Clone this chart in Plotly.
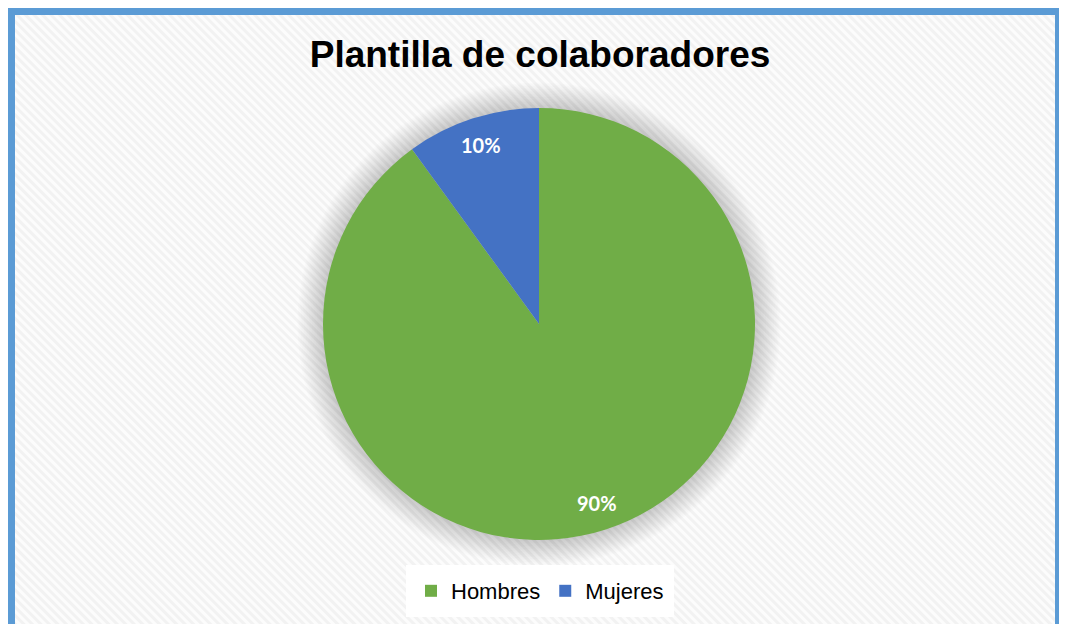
import base64
import math

import plotly.graph_objects as go

# the page puts the figure 8px in from the window corner, so size it to fit
OFF = 8
W, H = 1067 - OFF, 624 - OFF

# Data
labels = ["Hombres", "Mujeres"]
values = [90, 10]
colors = ["#70AD47", "#4472C4"]
title_text = "Plantilla de colaboradores"

# pie geometry in window pixels (center + radius)
cx, cy, r = 539, 324, 216


def px(x):
    return (x - OFF) / W


def py(y):
    return 1 - (y - OFF) / H


# hatched background like the Excel chart area fill
svg = f"""<svg xmlns='http://www.w3.org/2000/svg' width='{W}' height='{H}' viewBox='0 0 {W} {H}'>
<defs><pattern id='p' width='6' height='6' patternUnits='userSpaceOnUse' patternTransform='rotate(-45)'>
<rect width='6' height='6' fill='#fcfcfc'/><rect width='3' height='6' fill='#f2f2f2'/></pattern></defs>
<rect width='{W}' height='{H}' fill='url(#p)'/></svg>"""
bg_src = "data:image/svg+xml;base64," + base64.b64encode(svg.encode()).decode()

fig = go.Figure()

# soft shadow round the pie: stacked faint grey discs
for k in range(16, 0, -1):
    rr = r + k * 1.6
    fig.add_trace(
        go.Pie(
            values=[1],
            labels=["shadow"],
            marker=dict(colors=["rgba(0,0,0,0.012)"], line=dict(width=0)),
            textinfo="none",
            hoverinfo="skip",
            showlegend=False,
            sort=False,
            domain=dict(x=[px(cx - rr), px(cx + rr)], y=[py(cy + rr), py(cy - rr)]),
        )
    )

fig.add_trace(
    go.Pie(
        labels=labels,
        values=values,
        marker=dict(colors=colors, line=dict(width=0)),
        sort=False,
        direction="clockwise",
        rotation=0,
        textinfo="none",
        hoverinfo="label+percent",
        domain=dict(x=[px(cx - r), px(cx + r)], y=[py(cy + r), py(cy - r)]),
    )
)

# data labels placed along each slice's mid angle, like Excel's best fit
total = sum(values)
start = 0.0
for v in values:
    mid = (start + v / 2) / total * 2 * math.pi
    start += v
    lx = cx + 0.87 * r * math.sin(mid)
    ly = cy - 0.87 * r * math.cos(mid)
    fig.add_annotation(
        x=px(lx),
        y=py(ly),
        xref="paper",
        yref="paper",
        xanchor="center",
        yanchor="middle",
        text=f"{round(v / total * 100)}%",
        showarrow=False,
        font=dict(family="Lato", size=20, color="white", weight=700),
    )

fig.add_layout_image(
    dict(
        source=bg_src,
        xref="paper",
        yref="paper",
        x=0,
        y=1,
        sizex=1,
        sizey=1,
        sizing="stretch",
        xanchor="left",
        yanchor="top",
        layer="below",
    )
)

# blue chart frame (right side sits on the visible edge of the page)
fig.add_shape(
    type="rect",
    xref="paper",
    yref="paper",
    x0=px(11),
    x1=px(1059),
    y0=py(640),
    y1=py(11),
    line=dict(color="#5B9BD5", width=8),
    fillcolor="rgba(0,0,0,0)",
    layer="above",
)

fig.update_layout(
    width=W,
    height=H,
    margin=dict(l=0, r=0, t=0, b=0),
    paper_bgcolor="white",
    plot_bgcolor="white",
    title=dict(
        text=title_text,
        x=px(540),
        y=py(54),
        xanchor="center",
        yanchor="middle",
        font=dict(family="Liberation Sans", size=37, color="black", weight=700),
    ),
    legend=dict(
        orientation="h",
        x=px(540),
        y=py(591),
        xanchor="center",
        yanchor="middle",
        bgcolor="white",
        bordercolor="white",
        borderwidth=5,
        font=dict(family="Liberation Sans", size=22, color="black"),
        itemwidth=30,
    ),
)

fig.write_html("out.html")
